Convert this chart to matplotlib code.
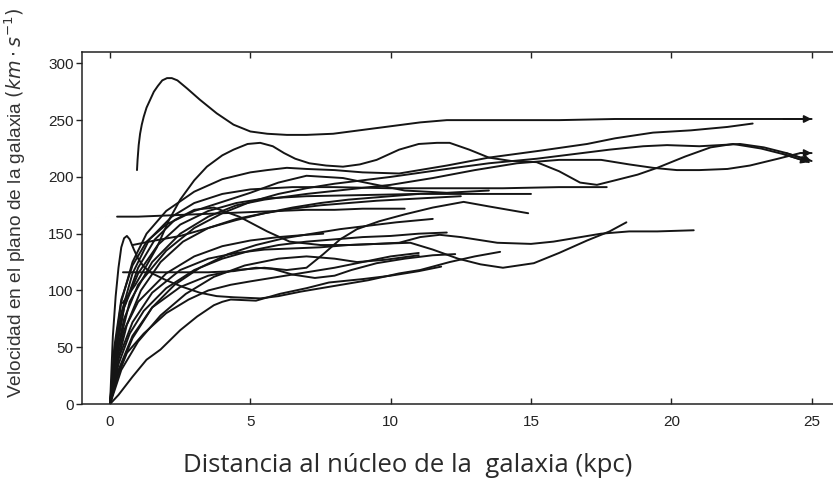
import matplotlib
matplotlib.use("Agg")
import matplotlib.pyplot as plt

# Rotation curves: radius (kpc) and circular velocity (km/s) for each galaxy
r01 = [0.96, 0.98, 1.02, 1.07, 1.13, 1.2, 1.3, 1.43, 1.56, 1.7, 1.86, 2.03, 2.2, 2.4, 2.74, 3.2, 3.8, 4.4, 5.0, 5.6, 6.3, 7.0, 7.95, 9.5, 11.05, 12, 14, 16, 18, 20, 22, 24, 25]
v01 = [206, 215, 228, 238, 246, 253, 261, 268, 275, 280, 285, 287, 287, 285, 278, 268, 256, 246, 240, 238, 237, 237, 238, 243, 248, 250, 250, 250, 251, 251, 251, 251, 251]

r02 = [0.45, 0.9, 1.3, 1.67, 2.1, 2.5, 3.0, 3.45, 4.0, 4.4, 4.9, 5.35, 5.8, 6.2, 6.6, 7.1, 7.7, 8.3, 8.9, 9.5, 10.3, 11.0, 11.65, 12.1, 12.8, 13.5, 14.3, 15.2, 16.0, 16.75, 17.35, 18.0, 18.8, 19.5, 20.5, 21.4, 22.2, 23.2, 24.0, 24.9]
v02 = [89, 105, 122, 138, 162, 180, 197, 209, 219, 224, 229, 230, 227, 221, 216, 212, 210, 209, 211, 215, 224, 229, 230, 230, 224, 217, 214, 213, 205, 195, 193, 197, 202, 208, 218, 226, 229, 225, 220, 213]

r03 = [0, 0.15, 0.4, 0.8, 1.3, 2, 3, 4, 5, 5.6, 6.3, 7, 8, 9, 10.3, 12, 13.5, 15.3, 17, 18, 19.35, 20.7, 22, 22.9]
v03 = [0, 45, 90, 125, 150, 170, 187, 198, 204, 206, 208, 207, 206, 204, 203, 210, 217, 223, 229, 234, 239, 241, 244, 247]

r04 = [0, 0.2, 0.5, 1, 2, 3, 4, 5, 6, 7, 8, 10, 12, 13.5, 15.2, 16.5, 17.8, 19, 19.85, 21, 22.45, 23.3, 24.1, 25]
v04 = [0, 40, 75, 105, 135, 155, 168, 178, 185, 190, 194, 200, 207, 212, 216, 220, 224, 227, 228, 227, 229, 226, 221, 214]

r05 = [0, 0.3, 0.7, 1.5, 2.5, 3.5, 4.5, 5.5, 7, 8.5, 10, 11.5, 13, 14.5, 16, 17.5, 18.5, 19.35, 20.2, 21, 22, 22.8, 23.8, 24.6, 25]
v05 = [0, 50, 90, 125, 150, 165, 175, 180, 185, 189, 193, 199, 206, 212, 215, 215, 211, 208, 206, 206, 207, 210, 216, 221, 221]

r06 = [0.25, 1, 2, 3, 4, 5, 6, 7, 8, 9, 10.5]
v06 = [165, 165, 166, 167, 168, 169, 170, 171, 171, 172, 172]

r07 = [0.46, 1.5, 2.6, 3.5, 4.4, 5.2, 5.8, 6.5, 7.3, 8.0, 8.6, 9.5, 10.5, 11.5, 12.3]
v07 = [116, 116, 116, 116, 117, 120, 119, 114, 111, 113, 118, 124, 128, 131, 132]

r08 = [0, 0.05, 0.1, 0.2, 0.3, 0.4, 0.5, 0.6, 0.7, 0.85, 1.0, 1.2, 1.5, 2.0, 2.6, 3.2, 3.8, 4.4, 5.35, 6.0, 6.8, 8.0, 9.2, 10.3, 11.05, 12.1, 13.0, 13.9]
v08 = [0, 30, 60, 95, 120, 138, 146, 148, 145, 136, 128, 121, 115, 109, 103, 98, 95, 94, 93, 95, 99, 104, 109, 115, 118, 125, 130, 134]

r09 = [0, 0.2, 0.5, 1, 1.6, 2.3, 3, 3.7, 4.6, 5.6, 6.4, 7.5, 8.5, 9.5, 10.3, 11.05, 11.75, 12.5, 13.8, 15, 15.8, 17.5, 18.5, 19.5, 20.8]
v09 = [0, 45, 85, 120, 145, 162, 171, 173, 165, 152, 143, 140, 140, 141, 142, 147, 149, 147, 142, 141, 143, 150, 152, 152, 153]

r10 = [0, 0.3, 0.8, 1.5, 2.5, 3.5, 4.5, 5.5, 6.5, 7.5, 8.5, 9.5, 10.7, 11.5, 12.4, 13.2, 14, 15.1, 16, 17, 17.8, 18.4]
v10 = [0, 40, 72, 98, 118, 128, 133, 136, 137, 138, 140, 141, 142, 136, 128, 123, 120, 124, 133, 144, 152, 160]

r11 = [0, 0.2, 0.5, 1, 2, 3, 4, 5, 6, 7, 7.6]
v11 = [0, 35, 65, 90, 115, 130, 139, 144, 147, 149, 150]

r12 = [0, 0.2, 0.5, 1, 1.7, 2.5, 3.5, 4.5, 5.5, 7, 9, 11, 13, 15]
v12 = [0, 45, 85, 115, 140, 158, 170, 177, 181, 183, 184, 185, 185, 185]

r13 = [0, 0.15, 0.4, 0.8, 1.4, 2.2, 3, 4, 5, 6.5, 8, 10, 12, 14, 16, 17.7]
v13 = [0, 40, 80, 115, 145, 165, 177, 185, 189, 191, 191, 190, 190, 190, 191, 191]

r14 = [0, 0.3, 0.8, 1.5, 2.5, 3.5, 4.5, 5.5, 6.3, 7.0, 7.6, 8.2, 8.8, 9.6, 10.5, 11.5, 12.6, 13.5, 14.9]
v14 = [0, 30, 60, 85, 103, 113, 118, 120, 118, 120, 132, 145, 154, 161, 167, 173, 178, 174, 168]

r15 = [0, 0.3, 0.7, 1.2, 2, 3, 4, 5, 6, 7, 8, 9, 10, 11, 12]
v15 = [0, 35, 62, 82, 102, 118, 128, 135, 140, 143, 145, 147, 148, 150, 151]

r16 = [0, 0.4, 1, 1.8, 2.7, 3.7, 4.8, 6, 7, 8, 8.8, 9.8, 11]
v16 = [0, 30, 55, 78, 97, 112, 122, 128, 130, 128, 125, 127, 131]

r17 = [0, 0.3, 0.8, 1.3, 1.8, 2.5, 3.1, 3.7, 4.0, 4.3, 5.2, 6.05, 7.0, 7.8, 9, 10, 11, 11.8]
v17 = [0, 8, 24, 39, 48, 65, 77, 87, 90, 92, 91, 97, 102, 107, 110, 113, 117, 121]

r18 = [0, 0.2, 0.6, 1.2, 2, 2.8, 3.5, 4.3, 5, 6, 7, 8, 9, 10, 11]
v18 = [0, 20, 45, 62, 80, 92, 100, 105, 108, 112, 116, 120, 125, 130, 133]

r19 = [0.8, 1.6, 2.5, 3.5, 4.5, 5.5, 6.5, 7.5, 8.5, 10, 11]
v19 = [140, 144, 148, 155, 162, 168, 173, 177, 180, 183, 185]

r20 = [0, 0.15, 0.4, 0.8, 1.3, 2, 3, 4, 5, 6, 7, 8.3, 9.5, 10.5, 12, 13.5]
v20 = [0, 50, 92, 122, 143, 158, 170, 178, 186, 195, 201, 199, 193, 188, 186, 188]

r21 = [0, 0.25, 0.6, 1.1, 1.8, 2.6, 3.5, 4.5, 5.5, 6.5, 7.5, 8.5, 9.5, 11, 12.5]
v21 = [0, 35, 70, 100, 125, 143, 155, 163, 168, 172, 175, 177, 179, 181, 183]

r22 = [0, 0.3, 0.8, 1.5, 2.3, 3.2, 4.2, 5.2, 6.2, 7.2, 8.2, 9.2, 10.2, 11.5]
v22 = [0, 28, 58, 85, 105, 120, 132, 140, 146, 150, 154, 157, 160, 163]

curves = [
    (r01, v01), (r02, v02), (r03, v03), (r04, v04), (r05, v05), (r06, v06),
    (r07, v07), (r08, v08), (r09, v09), (r10, v10), (r11, v11), (r12, v12),
    (r13, v13), (r14, v14), (r15, v15), (r16, v16), (r17, v17), (r18, v18),
    (r19, v19), (r20, v20), (r21, v21), (r22, v22),
]
# curves that keep rising beyond the plotted range end with an arrow
arrowed = [0, 1, 3, 4]

x_ticks = [0, 5, 10, 15, 20, 25]
y_ticks = [0, 50, 100, 150, 200, 250, 300]

fig = plt.figure(figsize=(8.33, 4.83), dpi=100)
ax = fig.add_axes([82 / 833, 79 / 483, 754 / 833, 352 / 483])
ink = "#151515"

for i, (r, v) in enumerate(curves):
    ax.plot(r, v, color=ink, lw=1.4, solid_joinstyle="round", solid_capstyle="round")
    if i in arrowed:
        ax.annotate("", xy=(r[-1], v[-1]), xytext=(r[-2], v[-2]),
                    arrowprops=dict(arrowstyle="-|>", color=ink, lw=1.2,
                                    shrinkA=0, shrinkB=0, mutation_scale=11))

ax.set_xlim(-1.0, 25.87)
ax.set_ylim(0, 310)
ax.set_xticks(x_ticks)
ax.set_yticks(y_ticks)
ax.tick_params(axis="x", direction="in", top=True, length=4, width=1.0,
               labelsize=11, pad=8, colors="#222222")
ax.tick_params(axis="y", direction="out", right=False, length=4, width=1.0,
               labelsize=11, pad=2, colors="#222222")
for lab in ax.get_xticklabels() + ax.get_yticklabels():
    lab.set_fontfamily("Liberation Sans")
ax.spines["right"].set_visible(False)
for s in ("left", "top", "bottom"):
    ax.spines[s].set_color("#222222")
    ax.spines[s].set_linewidth(1.1)

fig.text(15 / 833, 1 - 203 / 483,
         "Velocidad en el plano de la galaxia $(km \\cdot s^{-1})$",
         rotation=90, ha="center", va="center", fontsize=13.8,
         family="Liberation Sans", color="#333333")
fig.text(408 / 833, 1 - 466 / 483, "Distancia al núcleo de la  galaxia (kpc)",
         ha="center", va="center", fontsize=18.5, family="Open Sans",
         color="#2a2a2a")

fig.savefig("out.png", dpi=100)
